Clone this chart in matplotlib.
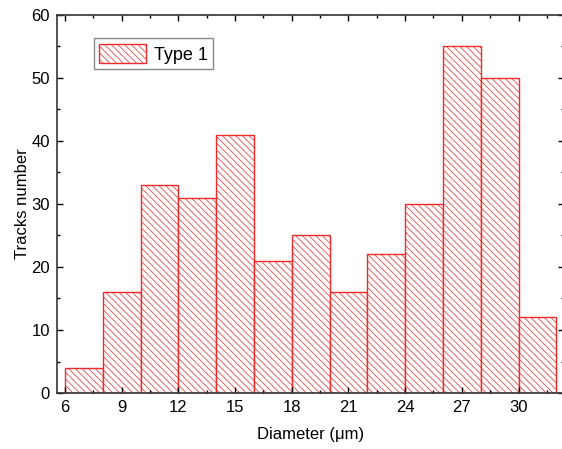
import numpy as np
import matplotlib.pyplot as plt
from matplotlib.ticker import MultipleLocator

# 직경 구간별 트랙 수
bin_left = [6, 8, 10, 12, 14, 16, 18, 20, 22, 24, 26, 28, 30]
counts = [4, 16, 33, 31, 41, 21, 25, 16, 22, 30, 55, 50, 12]
bin_width = 2

plt.rcParams['font.family'] = ['Liberation Sans', 'DejaVu Sans']
plt.rcParams['hatch.linewidth'] = 0.5

fig = plt.figure(figsize=(5.62, 4.49), dpi=100)
ax = fig.add_axes([0.1014, 0.1247, 0.903, 0.842])

ax.bar(bin_left, counts, width=bin_width, align='edge',
       facecolor='white', edgecolor='#ee2a2a', linewidth=1.0,
       hatch='\\' * 5, label='Type 1')

ax.set_xlim(5.58, 32.43)
ax.set_ylim(0, 60)
ax.xaxis.set_major_locator(MultipleLocator(3))
ax.xaxis.set_minor_locator(MultipleLocator(1.5))
ax.yaxis.set_major_locator(MultipleLocator(10))
ax.yaxis.set_minor_locator(MultipleLocator(5))
ax.tick_params(which='both', direction='in', top=True, right=True,
               labelsize=12, width=1.0)
ax.tick_params(which='major', length=4, pad=5)
ax.tick_params(which='minor', length=2.5)
for s in ax.spines.values():
    s.set_linewidth(1.2)
    s.set_color('#333333')

ax.set_xlabel('Diameter (μm)', fontsize=12, labelpad=9)
ax.set_ylabel('Tracks number', fontsize=12, labelpad=1)

leg = ax.legend(loc='upper left', bbox_to_anchor=(0.055, 0.962), fontsize=13,
                fancybox=False, edgecolor='#888888', framealpha=1,
                handlelength=2.6, handleheight=1.3, borderpad=0.3,
                handletextpad=0.4)
leg.get_frame().set_linewidth(1.0)

fig.savefig('out.png', dpi=100)
